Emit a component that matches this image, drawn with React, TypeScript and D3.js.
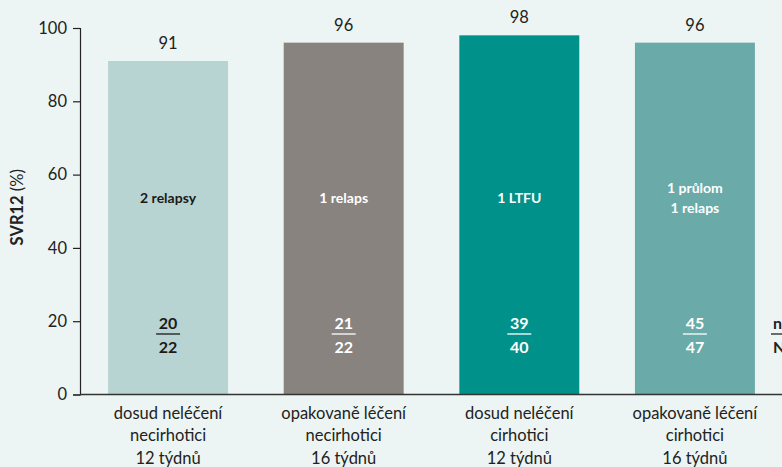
import React, { useEffect, useRef } from 'react';
import * as d3 from 'd3';

const categories = ['a', 'b', 'c', 'd'];
const catLabels = [
    ['dosud neléčení', 'necirhotici', '12 týdnů'],
    ['opakovaně léčení', 'necirhotici', '16 týdnů'],
    ['dosud neléčení', 'cirhotici', '12 týdnů'],
    ['opakovaně léčení', 'cirhotici', '16 týdnů'],
];
const svrValues = [91, 96, 98, 96];
const numerators = [20, 21, 39, 45];
const denominators = [22, 22, 40, 47];
const notes = [['2 relapsy'], ['1 relaps'], ['1 LTFU'], ['1 průlom', '1 relaps']];
const barColors = ['#b7d3d2', '#88837f', '#00928a', '#6aaaa8'];
const textColors = ['#1a1a1a', '#ffffff', '#ffffff', '#ffffff'];
const yTicks = [0, 20, 40, 60, 80, 100];

const W = 782;
const H = 467;
const FONT = 'Lato, "Open Sans", sans-serif';

const App = () => {
    const ref = useRef<SVGSVGElement>(null);

    useEffect(() => {
        const svg = d3.select(ref.current);
        svg.selectAll('*').remove();

        const x = d3.scaleBand().domain(categories).range([80, 783]).paddingInner(0.317).paddingOuter(0.16);
        const y = d3.scaleLinear().domain([0, 100]).range([394.5, 28]);

        svg.append('rect').attr('width', W).attr('height', H).attr('fill', '#ecf5f3');

        // bars
        svg.selectAll('rect.bar')
            .data(categories)
            .enter()
            .append('rect')
            .attr('class', 'bar')
            .attr('x', (d) => x(d) as number)
            .attr('y', (d, i) => y(svrValues[i]))
            .attr('width', x.bandwidth())
            .attr('height', (d, i) => y(0) - y(svrValues[i]))
            .attr('fill', (d, i) => barColors[i]);

        // y axis
        const yAxis = svg.append('g')
            .attr('transform', 'translate(80,0)')
            .call(d3.axisLeft(y).tickValues(yTicks).tickSize(7).tickPadding(6));
        yAxis.select('.domain').attr('stroke', '#222').attr('stroke-width', 1.2);
        yAxis.selectAll('.tick line').attr('stroke', '#222').attr('stroke-width', 1.2);
        yAxis.selectAll('.tick text')
            .attr('fill', '#222')
            .style('font-family', FONT)
            .style('font-size', '16.5px');

        // x baseline
        svg.append('line')
            .attr('x1', 80).attr('x2', W)
            .attr('y1', y(0)).attr('y2', y(0))
            .attr('stroke', '#333')
            .attr('stroke-width', 1.5);

        categories.forEach((c, i) => {
            const cx = (x(c) as number) + x.bandwidth() / 2;
            // value above bar
            svg.append('text')
                .attr('x', cx).attr('y', y(svrValues[i]) - 12)
                .attr('text-anchor', 'middle')
                .attr('fill', '#222')
                .style('font-family', FONT)
                .style('font-size', '16.5px')
                .text(svrValues[i]);

            // note inside bar
            const nl = notes[i];
            nl.forEach((t, j) => {
                svg.append('text')
                    .attr('x', cx)
                    .attr('y', 203 + (j - (nl.length - 1) / 2) * 20)
                    .attr('text-anchor', 'middle')
                    .attr('fill', textColors[i])
                    .style('font-family', FONT)
                    .style('font-weight', 'bold')
                    .style('font-size', '14px')
                    .text(t);
            });

            // fraction
            svg.append('text')
                .attr('x', cx).attr('y', 329)
                .attr('text-anchor', 'middle')
                .attr('fill', textColors[i])
                .style('font-family', FONT)
                .style('font-weight', 'bold')
                .style('font-size', '16px')
                .text(numerators[i]);
            svg.append('line')
                .attr('x1', cx - 12).attr('x2', cx + 12)
                .attr('y1', 334).attr('y2', 334)
                .attr('stroke', textColors[i])
                .attr('stroke-width', 1.3);
            svg.append('text')
                .attr('x', cx).attr('y', 352.5)
                .attr('text-anchor', 'middle')
                .attr('fill', textColors[i])
                .style('font-family', FONT)
                .style('font-weight', 'bold')
                .style('font-size', '16px')
                .text(denominators[i]);

            // category labels
            catLabels[i].forEach((t, j) => {
                svg.append('text')
                    .attr('x', cx).attr('y', 418.5 + j * 22.5)
                    .attr('text-anchor', 'middle')
                    .attr('fill', '#222')
                    .style('font-family', FONT)
                    .style('font-size', '16.5px')
                    .text(t);
            });
        });

        // n/N key (cut off at the right edge, as in the source)
        svg.append('text')
            .attr('x', 773).attr('y', 329)
            .attr('fill', '#222')
            .style('font-family', FONT).style('font-weight', 'bold').style('font-size', '16px')
            .text('n');
        svg.append('line')
            .attr('x1', 771).attr('x2', W)
            .attr('y1', 334).attr('y2', 334)
            .attr('stroke', '#222').attr('stroke-width', 1.3);
        svg.append('text')
            .attr('x', 773).attr('y', 352.5)
            .attr('fill', '#222')
            .style('font-family', FONT).style('font-weight', 'bold').style('font-size', '16px')
            .text('N');

        // y label
        const yl = svg.append('text')
            .attr('transform', `translate(23,${y(50) - 4}) rotate(-90)`)
            .attr('text-anchor', 'middle')
            .attr('fill', '#222')
            .style('font-family', FONT)
            .style('font-size', '16.5px');
        yl.append('tspan').style('font-weight', 'bold').text('SVR12');
        yl.append('tspan').text(' (%)');
    }, []);

    return (
        <svg ref={ref} width={W} height={H} style={{ position: 'absolute', left: 0, top: 0 }} />
    );
};

export default App;
